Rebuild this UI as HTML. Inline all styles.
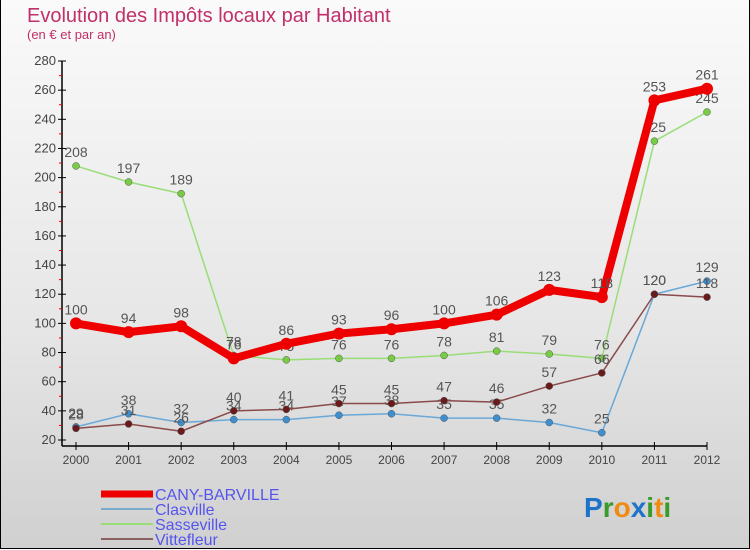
<!DOCTYPE html>
<html><head><meta charset="utf-8"><style>
html,body{margin:0;padding:0}
body{width:750px;height:550px;overflow:hidden;font-family:"Liberation Sans",sans-serif}
#wrap{position:relative;width:748px;height:548px;border:1px solid #000;border-top:none;background:linear-gradient(#fafafa,#e6e6e6 60%,#d0d0d0)}
svg{position:absolute;left:0;top:0;font-family:"Liberation Sans",sans-serif}
</style></head><body>
<div id="wrap">
<svg id="c" width="750" height="550">
<text x="26" y="22" font-size="20" fill="#c0306a" font-weight="300">Evolution des Impôts locaux par Habitant</text>
<text x="26" y="39" font-size="13" fill="#c0306a">(en € et par an)</text>
</svg>
</div>
<script>
const years=[2000,2001,2002,2003,2004,2005,2006,2007,2008,2009,2010,2011,2012];
const cany=[100,94,98,76,86,93,96,100,106,123,118,253,261];
const clasville=[29,38,32,34,34,37,38,35,35,32,25,120,129];
const sasseville=[208,197,189,78,75,76,76,78,81,79,76,225,245];
const vittefleur=[28,31,26,40,41,45,45,47,46,57,66,120,118];
const yTicks=[20,40,60,80,100,120,140,160,180,200,220,240,260,280];
const seriesNames=["CANY-BARVILLE","Clasville","Sasseville","Vittefleur"];
const NS="http://www.w3.org/2000/svg";
const svg=document.getElementById('c');
const x0=75,x1=706,yMin=20,yMax=280,py0=440,py1=61;
const X=i=>x0+(x1-x0)*i/(years.length-1);
const Y=v=>py0-(v-yMin)*(py0-py1)/(yMax-yMin);
function mk(t,a,p){const e=document.createElementNS(NS,t);for(const k in a)e.setAttribute(k,a[k]);(p||svg).appendChild(e);return e;}
let ax=mk('line',{x1:61,y1:py1,x2:61,y2:446,stroke:'#000','stroke-width':1.5});


let xa=mk('line',{x1:61,y1:446,x2:x1,y2:446,stroke:'#000','stroke-width':1.5});


yTicks.forEach(v=>{
  const y=Y(v);
  mk('line',{x1:57,y1:y,x2:65,y2:y,stroke:'#000'});
  const t=mk('text',{x:55,y:y+4,'font-size':13,fill:'#444','text-anchor':'end'});t.textContent=v;
  
  
  if(v<yMax){const m=Y(v+10);mk('line',{x1:58,y1:m,x2:61,y2:m,stroke:'#e00'});}
});
years.forEach((yr,i)=>{
  const x=X(i);
  mk('line',{x1:x,y1:442,x2:x,y2:450,stroke:'#000'});
  const t=mk('text',{x:x,y:464,'font-size':12,fill:'#444','text-anchor':'middle'});t.textContent=yr;
  
  
});
function series(data,color,dot,w,r,name){
  const g=mk('g',{});
  
  
  mk('polyline',{points:data.map((v,i)=>X(i)+','+Y(v)).join(' '),fill:'none',stroke:color,'stroke-width':w,'stroke-linejoin':'round'},g);
  data.forEach((v,i)=>{
    const c=mk('circle',{cx:X(i),cy:Y(v),r:r,fill:dot,stroke:color==='#ee0000'?'#ee0000':'#555','stroke-width':color==='#ee0000'?0:0.5},g);
    
    
    const t=mk('text',{x:X(i),y:Y(v)-9,'font-size':14,fill:'#555','text-anchor':'middle'},g);t.textContent=v;
    
    
  });
}
series(sasseville,'#99dd77','#77cc44',1.5,3.5,'sasseville-series');
series(clasville,'#6aa8d8','#3d8fd0',1.5,3.5,'clasville-series');
series(vittefleur,'#8a4a4a','#6a1a1a',1.5,3.5,'vittefleur-series');
series(cany,'#ee0000','#ee0000',8,6,'cany-barville-series');
const leg=[['#ee0000',7],['#7aaacc',2],['#99dd77',2],['#8a6060',2]];
seriesNames.forEach((n,i)=>{
  const y=494+i*15;
  const l=mk('line',{x1:100,y1:y,x2:152,y2:y,stroke:leg[i][0],'stroke-width':leg[i][1]});
  
  
  const t=mk('text',{x:154,y:y+6,'font-size':16,fill:'#5555ee'});t.textContent=n;
  
  
});
const logo=mk('text',{x:583,y:517,'font-size':28,'font-weight':'bold'});


[['P','#1e73c8'],['r','#3a9a2a'],['o','#f08a10'],['x','#1e73c8'],['i','#3a9a2a'],['t','#f08a10'],['i','#3a9a2a']].forEach(([c,f])=>{const s=mk('tspan',{fill:f},logo);s.textContent=c;});
</script>
</body></html>
